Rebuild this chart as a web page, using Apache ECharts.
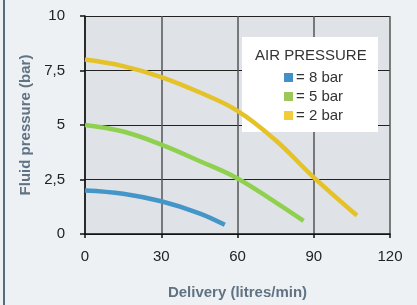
<!DOCTYPE html>
<html>
<head>
<meta charset="utf-8">
<script src="https://cdn.jsdelivr.net/npm/echarts@6/dist/echarts.min.js"></script>
<style>
  html, body { margin: 0; padding: 0; background: #eef1f4; }
  #chart { width: 417px; height: 305px; }
</style>
</head>
<body>
<div id="chart"></div>
<script>
// delivery (litres/min) vs fluid pressure (bar), one curve per air pressure
const seriesNames = ['= 8 bar', '= 5 bar', '= 2 bar']
const air8 = [[0, 2.0], [15, 1.85], [30, 1.5], [45, 0.95], [55, 0.42]]
const air5 = [[0, 5.0], [15, 4.7], [30, 4.1], [45, 3.35], [60, 2.55], [75, 1.45], [86, 0.6]]
const air2 = [[0, 8.0], [15, 7.7], [30, 7.2], [45, 6.5], [60, 5.65], [75, 4.3], [90, 2.6], [107, 0.85]]
const lineColors = ['#4596c8', '#8fd14f', '#e6c229']
const legendColors = ['#4490c4', '#9dc75b', '#f2cc3a']

const chart = echarts.init(document.getElementById('chart'))
const font = '"Liberation Sans", Arial, sans-serif'

function makeSeries(name, data, color) {
  return {
    name: name,
    type: 'line',
    data: data,
    smooth: 0.4,
    symbol: 'none',
    lineStyle: { color: color, width: 4.5 },
    itemStyle: { color: color }
  }
}

chart.setOption({
  backgroundColor: '#eef1f4',
  animation: false,
  textStyle: { fontFamily: font },
  grid: { left: 85, right: 27, top: 16, bottom: 69, show: true, backgroundColor: '#dfe2e7', borderWidth: 0 },
  xAxis: {
    type: 'value',
    min: 0, max: 120, interval: 30,
    name: 'Delivery (litres/min)',
    nameLocation: 'middle',
    nameGap: 51,
    nameTextStyle: { color: '#5f7384', fontWeight: 'bold', fontSize: 15, fontFamily: font },
    axisLine: { lineStyle: { color: '#111', width: 1.5 } },
    axisTick: { show: true, length: 4, lineStyle: { color: '#111', width: 1.5 } },
    axisLabel: { color: '#222', fontSize: 15, margin: 15, fontFamily: font },
    splitLine: { show: true, lineStyle: { color: '#555', width: 1.5 } }
  },
  yAxis: {
    type: 'value',
    min: 0, max: 10, interval: 2.5,
    name: 'Fluid pressure (bar)',
    nameLocation: 'middle',
    nameGap: 52,
    nameTextStyle: { color: '#5f7384', fontWeight: 'bold', fontSize: 15, fontFamily: font },
    axisLine: { show: true, lineStyle: { color: '#111', width: 1.5 } },
    axisTick: { show: true, length: 5, lineStyle: { color: '#111', width: 1.5 } },
    axisLabel: {
      color: '#222', fontSize: 15, margin: 20, fontFamily: font,
      formatter: v => String(v).replace('.', ',')
    },
    splitLine: { show: true, lineStyle: { color: '#222', width: 1 } }
  },
  graphic: [
    { type: 'rect', left: 3, top: 0, shape: { width: 2, height: 305 }, style: { fill: '#5a6a78' }, z: 10 },
    { type: 'rect', left: 242, top: 37, shape: { width: 136, height: 95 }, style: { fill: '#ffffff' }, z: 3 },
    {
      type: 'text', left: 255, top: 48, z: 5,
      style: { text: 'AIR PRESSURE', fill: '#333', font: '15px ' + font }
    }
  ],
  legend: {
    orient: 'vertical',
    left: 279,
    top: 65,
    itemWidth: 9,
    itemHeight: 9,
    itemGap: 4,
    icon: 'rect',
    z: 6,
    textStyle: { color: '#333', fontSize: 15, fontFamily: font, padding: [0, 0, 0, -2] },
    data: seriesNames.map((n, i) => ({ name: n, itemStyle: { color: legendColors[i] } }))
  },
  series: [
    makeSeries(seriesNames[0], air8, lineColors[0]),
    makeSeries(seriesNames[1], air5, lineColors[1]),
    makeSeries(seriesNames[2], air2, lineColors[2])
  ]
})
</script>
</body>
</html>
